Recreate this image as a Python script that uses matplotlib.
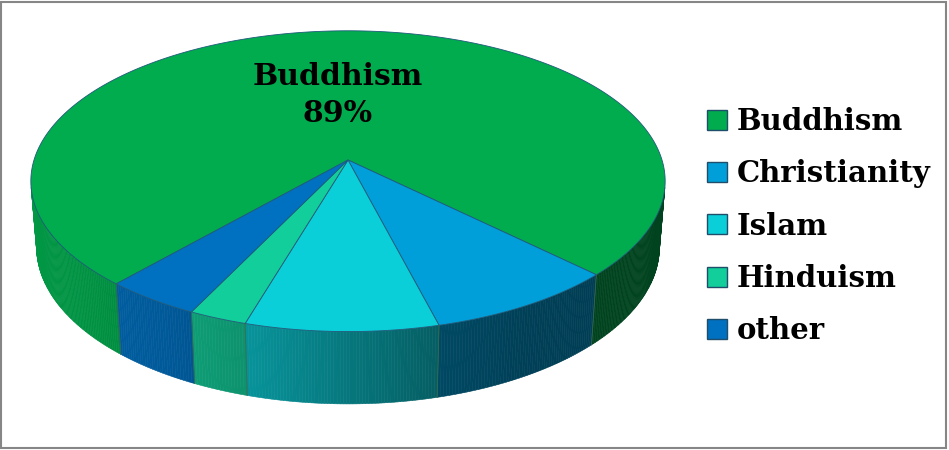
import numpy as np
import matplotlib
matplotlib.use("Agg")  # headless
import matplotlib.pyplot as plt
from matplotlib.patches import Polygon, Patch, Rectangle
from matplotlib.colors import to_rgb

# slice shares as they appear in the picture, clockwise from the left edge of Buddhism
religions = ["Buddhism", "Christianity", "Islam", "Hinduism", "other"]
shares = [75.9, 8.6, 8.6, 2.6, 4.3]
colors = ["#00AC4E", "#009FD9", "#0ACED8", "#12CE9A", "#0070C0"]
label_text = "Buddhism\n89%"
start_deg = 131.3  # clockwise on screen, 0 = right

# camera for the fake 3D look (pixels)
cx, cy = 348, 160
elev = np.radians(28)
dist = 6.27
focal = 314 * dist
depth_h = 0.24


def project(phi, z):
    # phi in radians on the unit circle, y axis toward viewer; z=0 top, -depth_h bottom
    x = np.cos(phi)
    y = np.sin(phi)
    d = dist - (y * np.cos(elev) + z * np.sin(elev))
    sx = cx + focal * x / d
    sy = cy + focal * (y * np.sin(elev) - z * np.cos(elev)) / d
    return sx, sy


def shade(phi_deg):
    # side walls get darker toward the right, like the Excel lighting
    knots = [0, 45, 60, 76, 83, 103, 110, 122, 140, 180]
    vals = [0.39, 0.39, 0.40, 0.46, 0.52, 0.69, 0.73, 0.80, 0.85, 0.90]
    return np.interp(phi_deg, knots, vals)


fig = plt.figure(figsize=(9.49, 4.5), dpi=100)
ax = fig.add_axes([0, 0, 1, 1])
ax.set_xlim(0, 949)
ax.set_ylim(450, 0)
ax.axis("off")

bounds = start_deg + np.concatenate([[0], np.cumsum(shares)]) * 3.6
vis_lo = np.degrees(np.arcsin(1 / (dist * np.cos(elev))))
vis_hi = 180 - vis_lo

# side walls
for i, col in enumerate(colors):
    a0, a1 = bounds[i], bounds[i + 1]
    base = np.array(to_rgb(col))
    for off in (0, 360, -360):
        lo = max(a0 + off, vis_lo)
        hi = min(a1 + off, vis_hi)
        if hi <= lo:
            continue
        steps = np.linspace(lo, hi, max(2, int((hi - lo) / 0.5) + 1))
        for s0, s1 in zip(steps[:-1], steps[1:]):
            p = np.radians([s0, s1])
            tx, ty = project(p, 0)
            bx, by = project(p, -depth_h)
            c = np.clip(base * shade((s0 + s1) / 2), 0, 1)
            ax.add_patch(Polygon([(tx[0], ty[0]), (tx[1], ty[1]), (bx[1], by[1]), (bx[0], by[0])],
                                 closed=True, facecolor=c, edgecolor=c, lw=0.4))
        # seam lines at slice borders
        for s in (lo, hi):
            if vis_lo < s < vis_hi:
                tx, ty = project(np.radians(s), 0)
                bx, by = project(np.radians(s), -depth_h)
                ax.plot([tx, bx], [ty, by], color="#3a6a50", lw=0.6, alpha=0.6)

# top faces
for i, col in enumerate(colors):
    ang = np.radians(np.linspace(bounds[i], bounds[i + 1], 300))
    sx, sy = project(ang, 0)
    pts = np.column_stack([np.concatenate([[cx], sx]), np.concatenate([[cy], sy])])
    ax.add_patch(Polygon(pts, closed=True, facecolor=col, edgecolor="#1f5a7a", lw=0.6))

ax.text(338, 62, label_text, ha="center", va="top", family="DejaVu Serif",
        fontweight="bold", fontsize=21.5, linespacing=1.35, color="black")

handles = [Patch(facecolor=c, edgecolor="#1f4e6a", lw=1.0) for c in colors]
ax.legend(handles, religions, loc="upper left", bbox_to_anchor=(707, 107),
          bbox_transform=ax.transData, frameon=False, borderpad=0, borderaxespad=0,
          prop={"family": "DejaVu Serif", "weight": "bold", "size": 21},
          handlelength=0.68, handleheight=0.68, handletextpad=0.35, labelspacing=0.80)

ax.add_patch(Rectangle((1.5, 1.5), 945, 446.5, fill=False, edgecolor="#868686", lw=1.5))

fig.savefig("out.png", dpi=100)
plt.close(fig)
